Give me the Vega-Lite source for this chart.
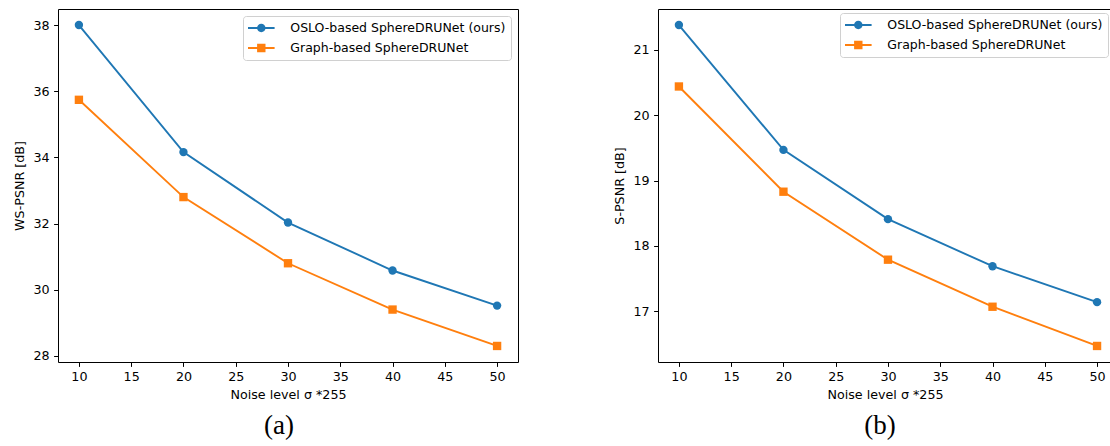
{
  "$schema": "https://vega.github.io/schema/vega-lite/v6.json",
  "padding": {"left": 12, "top": 8, "right": 0, "bottom": 0},
  "background": "white",
  "datasets": {
    "ws": [
      {"sigma": 10, "method": "OSLO-based SphereDRUNet (ours)", "psnr": 38.0},
      {"sigma": 20, "method": "OSLO-based SphereDRUNet (ours)", "psnr": 34.16},
      {"sigma": 30, "method": "OSLO-based SphereDRUNet (ours)", "psnr": 32.03},
      {"sigma": 40, "method": "OSLO-based SphereDRUNet (ours)", "psnr": 30.58},
      {"sigma": 50, "method": "OSLO-based SphereDRUNet (ours)", "psnr": 29.52},
      {"sigma": 10, "method": "Graph-based SphereDRUNet", "psnr": 35.74},
      {"sigma": 20, "method": "Graph-based SphereDRUNet", "psnr": 32.80},
      {"sigma": 30, "method": "Graph-based SphereDRUNet", "psnr": 30.80},
      {"sigma": 40, "method": "Graph-based SphereDRUNet", "psnr": 29.40},
      {"sigma": 50, "method": "Graph-based SphereDRUNet", "psnr": 28.30}
    ],
    "s": [
      {"sigma": 10, "method": "OSLO-based SphereDRUNet (ours)", "psnr": 21.38},
      {"sigma": 20, "method": "OSLO-based SphereDRUNet (ours)", "psnr": 19.47},
      {"sigma": 30, "method": "OSLO-based SphereDRUNet (ours)", "psnr": 18.41},
      {"sigma": 40, "method": "OSLO-based SphereDRUNet (ours)", "psnr": 17.69},
      {"sigma": 50, "method": "OSLO-based SphereDRUNet (ours)", "psnr": 17.14},
      {"sigma": 10, "method": "Graph-based SphereDRUNet", "psnr": 20.44},
      {"sigma": 20, "method": "Graph-based SphereDRUNet", "psnr": 18.83},
      {"sigma": 30, "method": "Graph-based SphereDRUNet", "psnr": 17.79},
      {"sigma": 40, "method": "Graph-based SphereDRUNet", "psnr": 17.07},
      {"sigma": 50, "method": "Graph-based SphereDRUNet", "psnr": 16.47}
    ]
  },
  "spacing": 94,
  "hconcat": [
    {
      "width": 460,
      "height": 353,
      "data": {"name": "ws"},
      "title": {"text": "(a)", "orient": "bottom", "frame": "group", "anchor": "middle", "dx": -9, "offset": 12, "font": "Liberation Serif", "fontSize": 27, "fontWeight": "normal", "color": "#000"},
      "resolve": {"scale": {"color": "independent", "shape": "independent"}},
      "layer": [
        {
          "mark": {"type": "line", "strokeWidth": 1.9},
          "encoding": {
            "x": {"field": "sigma", "type": "quantitative", "scale": {"domain": [8, 52], "nice": false, "zero": false}, "axis": {"values": [10, 15, 20, 25, 30, 35, 40, 45, 50], "title": "Noise level σ *255"}},
            "y": {"field": "psnr", "type": "quantitative", "scale": {"domain": [27.815, 38.485], "nice": false, "zero": false}, "axis": {"values": [28, 30, 32, 34, 36, 38], "title": "WS-PSNR [dB]"}},
            "color": {"field": "method", "type": "nominal", "scale": {"domain": ["OSLO-based SphereDRUNet (ours)", "Graph-based SphereDRUNet"], "range": ["#1f77b4", "#ff7f0e"]}, "legend": null}
          }
        },
        {
          "mark": {"type": "point", "filled": true, "opacity": 1, "size": 70},
          "encoding": {
            "x": {"field": "sigma", "type": "quantitative", "scale": {"domain": [8, 52], "nice": false, "zero": false}, "axis": {"values": [10, 15, 20, 25, 30, 35, 40, 45, 50], "title": "Noise level σ *255"}},
            "y": {"field": "psnr", "type": "quantitative", "scale": {"domain": [27.815, 38.485], "nice": false, "zero": false}, "axis": {"values": [28, 30, 32, 34, 36, 38], "title": "WS-PSNR [dB]"}},
            "color": {"field": "method", "type": "nominal", "scale": {"domain": ["OSLO-based SphereDRUNet (ours)", "Graph-based SphereDRUNet"], "range": ["#1f77b4", "#ff7f0e"]}, "legend": null},
            "shape": {"field": "method", "type": "nominal", "scale": {"domain": ["OSLO-based SphereDRUNet (ours)", "Graph-based SphereDRUNet"], "range": ["circle", "square"]}, "legend": null}
          }
        },
        {
          "mark": {"type": "point", "filled": true, "opacity": 0, "size": 196},
          "encoding": {
            "x": {"field": "sigma", "type": "quantitative", "scale": {"domain": [8, 52], "nice": false, "zero": false}, "axis": {"values": [10, 15, 20, 25, 30, 35, 40, 45, 50], "title": "Noise level σ *255"}},
            "y": {"field": "psnr", "type": "quantitative", "scale": {"domain": [27.815, 38.485], "nice": false, "zero": false}, "axis": {"values": [28, 30, 32, 34, 36, 38], "title": "WS-PSNR [dB]"}},
            "color": {"field": "method", "type": "nominal", "scale": {"domain": ["OSLO-based SphereDRUNet (ours)", "Graph-based SphereDRUNet"], "range": ["#1f77b4", "#ff7f0e"]},
              "legend": {"title": null, "orient": "top-right", "offset": 7, "padding": 5, "fillColor": "rgba(255,255,255,0.8)", "strokeColor": "#d0d0d0", "cornerRadius": 3, "labelFont": "DejaVu Sans", "labelFontSize": 12.5, "labelColor": "#000", "labelLimit": 400, "labelOffset": 22, "symbolOffset": 6.3, "symbolSize": 196, "symbolStrokeWidth": 0, "symbolOpacity": 1, "rowPadding": 6}},
            "shape": {"field": "method", "type": "nominal", "scale": {"domain": ["OSLO-based SphereDRUNet (ours)", "Graph-based SphereDRUNet"], "range": ["M-1.9,-0.136H1.9V0.136H-1.9ZM-0.6,0A0.6,0.6,0,1,1,0.6,0A0.6,0.6,0,1,1,-0.6,0Z", "M-1.9,-0.136H1.9V0.136H-1.9ZM-0.6,-0.6H0.6V0.6H-0.6Z"]},
              "legend": {"title": null, "orient": "top-right", "offset": 7, "padding": 5, "fillColor": "rgba(255,255,255,0.8)", "strokeColor": "#d0d0d0", "cornerRadius": 3, "labelFont": "DejaVu Sans", "labelFontSize": 12.5, "labelColor": "#000", "labelLimit": 400, "labelOffset": 22, "symbolOffset": 6.3, "symbolSize": 196, "symbolStrokeWidth": 0, "symbolOpacity": 1, "rowPadding": 6}}
          }
        }
      ]
    },
    {
      "width": 454,
      "height": 353,
      "data": {"name": "s"},
      "view": {"stroke": null},
      "title": {"text": "(b)", "orient": "bottom", "frame": "group", "anchor": "middle", "dx": -5, "offset": 12, "font": "Liberation Serif", "fontSize": 27, "fontWeight": "normal", "color": "#000"},
      "resolve": {"axis": {"x": "independent"}, "scale": {"color": "independent", "shape": "independent"}},
      "layer": [
        {
          "mark": {"type": "line", "strokeWidth": 1.9},
          "encoding": {
            "x": {"field": "sigma", "type": "quantitative", "scale": {"domain": [8, 51.43], "nice": false, "zero": false}, "axis": {"orient": "bottom", "domain": true, "values": [10, 15, 20, 25, 30, 35, 40, 45, 50], "title": "Noise level σ *255"}},
            "y": {"field": "psnr", "type": "quantitative", "scale": {"domain": [16.2245, 21.6255], "nice": false, "zero": false}, "axis": {"domain": true, "values": [17, 18, 19, 20, 21], "title": "S-PSNR [dB]"}},
            "color": {"field": "method", "type": "nominal", "scale": {"domain": ["OSLO-based SphereDRUNet (ours)", "Graph-based SphereDRUNet"], "range": ["#1f77b4", "#ff7f0e"]}, "legend": null}
          }
        },
        {
          "mark": {"type": "point", "filled": true, "opacity": 1, "size": 70},
          "encoding": {
            "x": {"field": "sigma", "type": "quantitative", "scale": {"domain": [8, 51.43], "nice": false, "zero": false}, "axis": {"orient": "top", "domain": true, "labels": false, "ticks": false, "title": null}},
            "y": {"field": "psnr", "type": "quantitative", "scale": {"domain": [16.2245, 21.6255], "nice": false, "zero": false}, "axis": {"domain": true, "values": [17, 18, 19, 20, 21], "title": "S-PSNR [dB]"}},
            "color": {"field": "method", "type": "nominal", "scale": {"domain": ["OSLO-based SphereDRUNet (ours)", "Graph-based SphereDRUNet"], "range": ["#1f77b4", "#ff7f0e"]}, "legend": null},
            "shape": {"field": "method", "type": "nominal", "scale": {"domain": ["OSLO-based SphereDRUNet (ours)", "Graph-based SphereDRUNet"], "range": ["circle", "square"]}, "legend": null}
          }
        },
        {
          "mark": {"type": "point", "filled": true, "opacity": 0, "size": 196},
          "encoding": {
            "x": {"field": "sigma", "type": "quantitative", "scale": {"domain": [8, 51.43], "nice": false, "zero": false}, "axis": null},
            "y": {"field": "psnr", "type": "quantitative", "scale": {"domain": [16.2245, 21.6255], "nice": false, "zero": false}, "axis": {"domain": true, "values": [17, 18, 19, 20, 21], "title": "S-PSNR [dB]"}},
            "color": {"field": "method", "type": "nominal", "scale": {"domain": ["OSLO-based SphereDRUNet (ours)", "Graph-based SphereDRUNet"], "range": ["#1f77b4", "#ff7f0e"]},
              "legend": {"title": null, "orient": "top-right", "offset": 4, "padding": 5, "fillColor": "rgba(255,255,255,0.8)", "strokeColor": "#d0d0d0", "cornerRadius": 3, "labelFont": "DejaVu Sans", "labelFontSize": 12.5, "labelColor": "#000", "labelLimit": 400, "labelOffset": 22, "symbolOffset": 6.3, "symbolSize": 196, "symbolStrokeWidth": 0, "symbolOpacity": 1, "rowPadding": 6}},
            "shape": {"field": "method", "type": "nominal", "scale": {"domain": ["OSLO-based SphereDRUNet (ours)", "Graph-based SphereDRUNet"], "range": ["M-1.9,-0.136H1.9V0.136H-1.9ZM-0.6,0A0.6,0.6,0,1,1,0.6,0A0.6,0.6,0,1,1,-0.6,0Z", "M-1.9,-0.136H1.9V0.136H-1.9ZM-0.6,-0.6H0.6V0.6H-0.6Z"]},
              "legend": {"title": null, "orient": "top-right", "offset": 4, "padding": 5, "fillColor": "rgba(255,255,255,0.8)", "strokeColor": "#d0d0d0", "cornerRadius": 3, "labelFont": "DejaVu Sans", "labelFontSize": 12.5, "labelColor": "#000", "labelLimit": 400, "labelOffset": 22, "symbolOffset": 6.3, "symbolSize": 196, "symbolStrokeWidth": 0, "symbolOpacity": 1, "rowPadding": 6}}
          }
        }
      ]
    }
  ],
  "resolve": {
    "scale": {"x": "independent", "y": "independent", "color": "independent", "shape": "independent"},
    "legend": {"color": "independent", "shape": "independent"}
  },
  "config": {
    "font": "DejaVu Sans",
    "view": {"stroke": "#000", "strokeWidth": 1},
    "axis": {"grid": false, "domain": false, "domainColor": "#000", "domainWidth": 1, "tickColor": "#000", "tickSize": 4.4, "tickWidth": 1, "labelColor": "#000", "labelFont": "DejaVu Sans", "labelFontSize": 12.7, "labelPadding": 4.4, "titleFont": "DejaVu Sans", "titleFontSize": 12.7, "titleFontWeight": "normal", "titleColor": "#000"},
    "axisX": {"titlePadding": 5},
    "axisY": {"titlePadding": 7}
  }
}
